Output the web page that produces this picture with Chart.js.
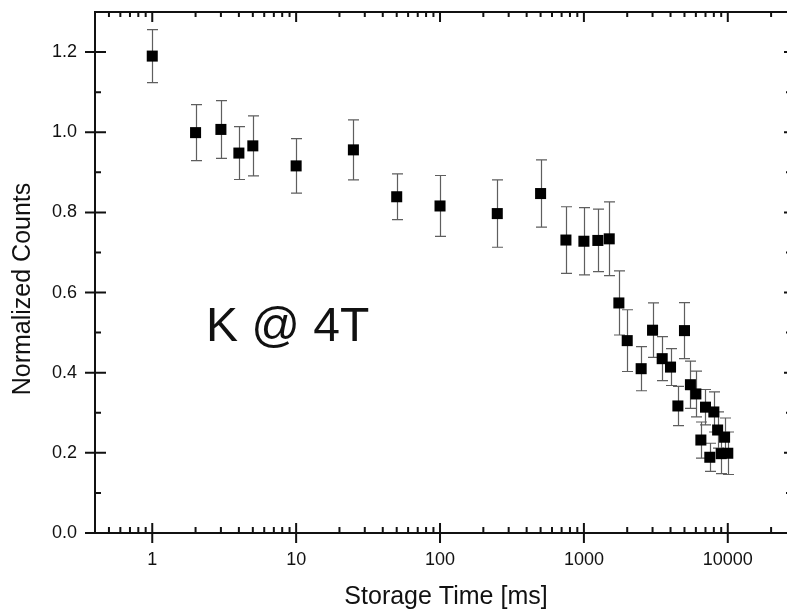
<!DOCTYPE html>
<html>
<head>
<meta charset="utf-8">
<script src="https://cdn.jsdelivr.net/npm/chart.js@4.4.0/dist/chart.umd.min.js"></script>
<style>
html,body{margin:0;padding:0;overflow:hidden;background:#fff;}
#wrap{position:relative;width:800px;height:611px;}
</style>
</head>
<body>
<div id="wrap"><canvas id="c"></canvas></div>
<script>
// ---- data ----
const storageTimes = [1, 2, 3, 4, 5, 10, 25, 50, 100, 250, 500, 750, 1000, 1250, 1500, 1750, 2000, 2500, 3000, 3500, 4000, 4500, 5000, 5500, 6000, 6500, 7000, 7500, 8000, 8500, 9000, 9500, 10000];
const normalizedCounts = [1.190, 0.999, 1.007, 0.948, 0.966, 0.916, 0.956, 0.839, 0.816, 0.797, 0.847, 0.731, 0.728, 0.730, 0.734, 0.574, 0.480, 0.410, 0.506, 0.435, 0.414, 0.317, 0.505, 0.370, 0.347, 0.232, 0.314, 0.189, 0.302, 0.257, 0.198, 0.239, 0.199];
const countErrors = [0.066, 0.070, 0.072, 0.066, 0.075, 0.068, 0.075, 0.057, 0.076, 0.084, 0.084, 0.083, 0.084, 0.078, 0.092, 0.080, 0.077, 0.055, 0.068, 0.055, 0.046, 0.049, 0.070, 0.059, 0.057, 0.045, 0.044, 0.035, 0.050, 0.045, 0.050, 0.048, 0.053];

const xMajorTicks = [1, 10, 100, 1000, 10000];
const xMinorTicks = [0.5, 0.6, 0.7, 0.8, 0.9, 2, 3, 4, 5, 6, 7, 8, 9, 20, 30, 40, 50, 60, 70, 80, 90, 200, 300, 400, 500, 600, 700, 800, 900, 2000, 3000, 4000, 5000, 6000, 7000, 8000, 9000, 20000];
const yMajorTicks = [0.0, 0.2, 0.4, 0.6, 0.8, 1.0, 1.2];
const yMinorTicks = [0.1, 0.3, 0.5, 0.7, 0.9, 1.1];

const xTitle = 'Storage Time [ms]';
const yTitle = 'Normalized Counts';
const annotationText = 'K @ 4T';
const annotationPos = {x: 2.36, y: 0.478};

const FONT = '"Liberation Sans", Arial, Helvetica, sans-serif';

const framePlugin = {
  id: 'frame',
  beforeDatasetsDraw(chart) {
    const {ctx, scales: {x, y}} = chart;
    ctx.save();
    ctx.strokeStyle = '#5e5e5e';
    ctx.lineWidth = 1.2;
    storageTimes.forEach((t, i) => {
      const px = Math.round(x.getPixelForValue(t)) + 0.5;
      const top = y.getPixelForValue(normalizedCounts[i] + countErrors[i]);
      const bot = y.getPixelForValue(normalizedCounts[i] - countErrors[i]);
      ctx.beginPath();
      ctx.moveTo(px, top); ctx.lineTo(px, bot);
      ctx.moveTo(px - 5.5, top); ctx.lineTo(px + 5.5, top);
      ctx.moveTo(px - 5.5, bot); ctx.lineTo(px + 5.5, bot);
      ctx.stroke();
    });
    ctx.restore();
  },
  afterDraw(chart) {
    const {ctx, chartArea: a, scales: {x, y}} = chart;
    ctx.save();
    ctx.strokeStyle = '#111';
    ctx.lineWidth = 2;
    ctx.strokeRect(a.left, a.top, a.right - a.left, a.bottom - a.top);
    ctx.beginPath();
    xMajorTicks.forEach(v => {
      const p = x.getPixelForValue(v);
      ctx.moveTo(p, a.bottom - 10); ctx.lineTo(p, a.bottom + 10);
      ctx.moveTo(p, a.top); ctx.lineTo(p, a.top + 10);
    });
    xMinorTicks.forEach(v => {
      const p = x.getPixelForValue(v);
      ctx.moveTo(p, a.bottom - 6); ctx.lineTo(p, a.bottom);
      ctx.moveTo(p, a.top); ctx.lineTo(p, a.top + 5);
    });
    yMajorTicks.forEach(v => {
      const p = y.getPixelForValue(v);
      ctx.moveTo(a.left - 10, p); ctx.lineTo(a.left + 11, p);
      ctx.moveTo(a.right, p); ctx.lineTo(a.right - 7, p);
    });
    yMinorTicks.forEach(v => {
      const p = y.getPixelForValue(v);
      ctx.moveTo(a.left, p); ctx.lineTo(a.left + 6, p);
      ctx.moveTo(a.right, p); ctx.lineTo(a.right - 5, p);
    });
    ctx.stroke();

    ctx.fillStyle = '#111';
    ctx.font = '25px ' + FONT;
    ctx.textAlign = 'center';
    ctx.textBaseline = 'middle';
    ctx.fillText(xTitle, 446, 597);
    ctx.save();
    ctx.translate(23.5, 289);
    ctx.rotate(-Math.PI / 2);
    ctx.fillText(yTitle, 0, 0);
    ctx.restore();

    ctx.font = '48px ' + FONT;
    ctx.textAlign = 'left';
    ctx.textBaseline = 'alphabetic';
    ctx.fillText(annotationText, x.getPixelForValue(annotationPos.x), y.getPixelForValue(annotationPos.y));
    ctx.restore();
  }
};

function zeroPad(s) { s.paddingTop = 0; s.paddingBottom = 0; s.paddingLeft = 0; s.paddingRight = 0; }

new Chart(document.getElementById('c'), {
  type: 'scatter',
  data: {
    datasets: [{
      data: storageTimes.map((t, i) => ({x: t, y: normalizedCounts[i]})),
      pointStyle: 'rect',
      pointRadius: 7.8,
      pointHoverRadius: 7.8,
      backgroundColor: '#000',
      borderColor: '#000',
      borderWidth: 0,
      showLine: false,
      clip: false
    }]
  },
  options: {
    responsive: true,
    maintainAspectRatio: false,
    animation: false,
    events: [],
    layout: {padding: {top: 12, right: 9, left: 0, bottom: 0}},
    plugins: {legend: {display: false}, tooltip: {enabled: false}},
    scales: {
      x: {
        type: 'logarithmic',
        position: 'bottom',
        min: 0.4,
        max: 27500,
        grid: {display: false, drawTicks: false},
        border: {display: false},
        ticks: {
          autoSkip: false, maxRotation: 0, padding: 16,
          color: '#111', font: {family: FONT, size: 18},
          callback: v => String(v)
        },
        afterBuildTicks: s => { s.ticks = xMajorTicks.map(v => ({value: v})); },
        afterFit: s => { s.height = 78; zeroPad(s); }
      },
      y: {
        type: 'linear',
        position: 'left',
        min: 0,
        max: 1.3,
        grid: {display: false, drawTicks: false},
        border: {display: false},
        ticks: {
          autoSkip: false, padding: 18,
          color: '#111', font: {family: FONT, size: 18},
          callback: v => Number(v).toFixed(1)
        },
        afterBuildTicks: s => { s.ticks = yMajorTicks.map(v => ({value: v})); },
        afterFit: s => { s.width = 95; zeroPad(s); }
      }
    }
  },
  plugins: [framePlugin]
});
</script>
</body>
</html>
